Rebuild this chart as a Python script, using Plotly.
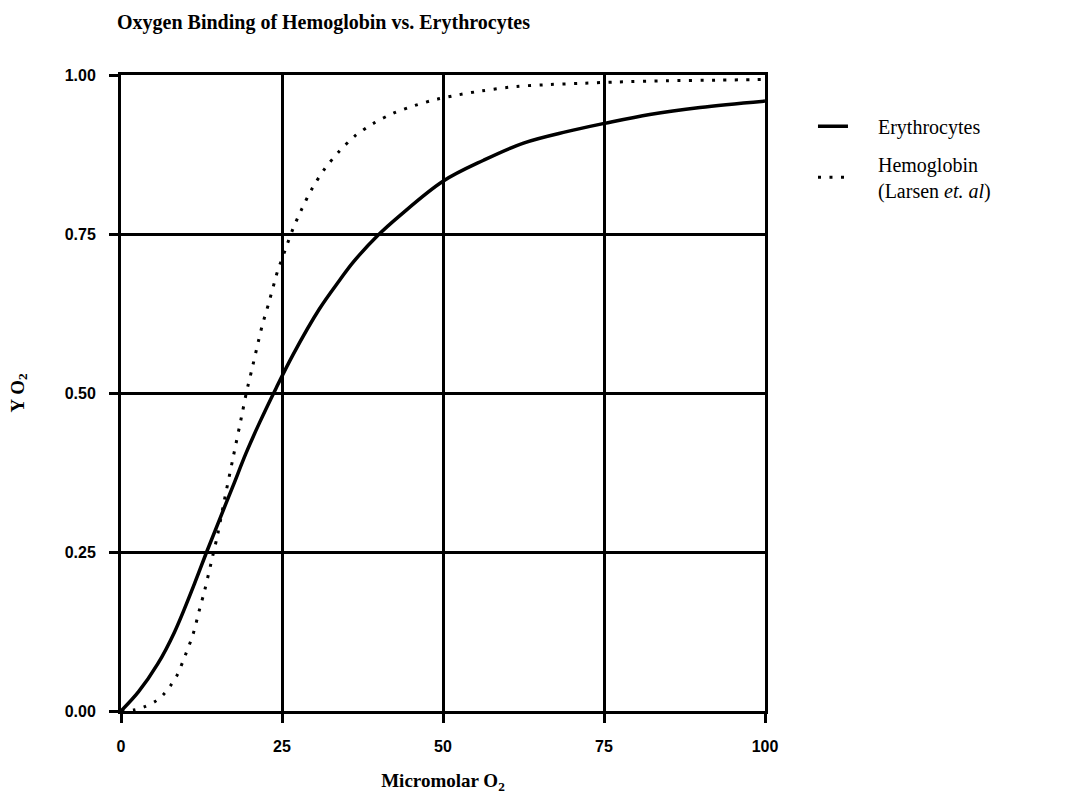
import plotly.graph_objects as go

# Fractional saturation
ery_o2 = [0, 2.7, 5.7, 8.3, 11.4, 13.3, 15.3, 17.4, 19.4, 21.5, 24.1, 26.7,
          30.8, 34.0, 36.0, 39.9, 43.3, 50.0, 56.3, 62.5, 69.2, 75.1, 82.1,
          89.9, 100]
ery_y = [0, 0.030, 0.074, 0.124, 0.200, 0.250, 0.301, 0.354, 0.405, 0.453,
         0.508, 0.560, 0.632, 0.678, 0.705, 0.748, 0.779, 0.833, 0.866, 0.893,
         0.911, 0.924, 0.938, 0.949, 0.959]

hb_o2 = [0, 2.2, 3.7, 5.3, 6.6, 7.7, 8.7, 10.0, 11.2, 12.1, 13.0, 14.2, 15.0,
         16.0, 17.4, 18.8, 19.5, 20.3, 21.1, 21.9, 22.9, 23.8, 24.3, 25.5, 26.7,
         28.1, 29.7, 31.6, 33.8, 36.3, 39.2, 42.3, 45.6, 49.1, 52.5, 56.0, 61.4,
         66.6, 71.8, 77.0, 84.7, 93.0, 100]
hb_y = [0, 0.002, 0.007, 0.015, 0.026, 0.040, 0.056, 0.088, 0.121, 0.156, 0.190,
        0.242, 0.277, 0.329, 0.398, 0.467, 0.502, 0.536, 0.571, 0.605, 0.640,
        0.673, 0.691, 0.725, 0.758, 0.790, 0.822, 0.852, 0.879, 0.904, 0.924,
        0.940, 0.952, 0.962, 0.969, 0.975, 0.982, 0.985, 0.987, 0.989, 0.991,
        0.992, 0.993]

x_ticks = [0, 25, 50, 75, 100]
y_ticks = [0, 0.25, 0.5, 0.75, 1.0]

serif = "Liberation Serif"
sans = "Liberation Sans"
pad = "\u00a0" * 5  # gap between legend sample and its label

fig = go.Figure()
fig.add_trace(go.Scatter(
    x=ery_o2, y=ery_y, mode="lines", name=pad + "Erythrocytes",
    line=dict(color="black", width=3.5, shape="spline", smoothing=1.0),
    legendgroup="a",
))
fig.add_trace(go.Scatter(
    x=hb_o2, y=hb_y, mode="lines",
    name=pad + "Hemoglobin<br>" + pad + "(Larsen <i>et. al</i>)",
    line=dict(color="black", width=3, shape="spline", smoothing=0.8,
              dash="3px,8.5px"),
    legendgroup="b",
))

axis_common = dict(
    showgrid=True, gridcolor="black", gridwidth=3,
    showline=True, linecolor="black", linewidth=3, mirror=True,
    ticks="outside", ticklen=9, tickwidth=3, tickcolor="black",
    zeroline=False,
    tickfont=dict(family=sans, size=16, color="black", weight="bold"),
)

fig.update_xaxes(
    range=[0, 100], tickvals=x_ticks, ticklabelstandoff=10,
    title=dict(text="Micromolar O<sub>2</sub>", standoff=20,
               font=dict(family=serif, size=19, color="black", weight="bold")),
    **axis_common,
)
fig.update_yaxes(
    range=[0, 1], tickvals=y_ticks, tickformat=".2f", ticklabelstandoff=10,
    title=dict(text="Y O<sub>2</sub>", standoff=36,
               font=dict(family=serif, size=19, color="black", weight="bold")),
    **axis_common,
)

fig.update_layout(
    width=1066, height=802,
    margin=dict(l=121, r=301, t=75, b=91),
    paper_bgcolor="white", plot_bgcolor="white",
    title=dict(text="Oxygen Binding of Hemoglobin vs. Erythrocytes",
               x=117 / 1066, xanchor="left", y=1 - 22 / 802, yanchor="middle",
               font=dict(family=serif, size=20, color="black", weight="bold")),
    legend=dict(x=1.0745, y=0.95, xanchor="left", yanchor="top",
                font=dict(family=serif, size=20, color="black"),
                tracegroupgap=9, itemwidth=30,
                bgcolor="rgba(0,0,0,0)"),
    showlegend=True,
)

fig.write_html("out.html")
